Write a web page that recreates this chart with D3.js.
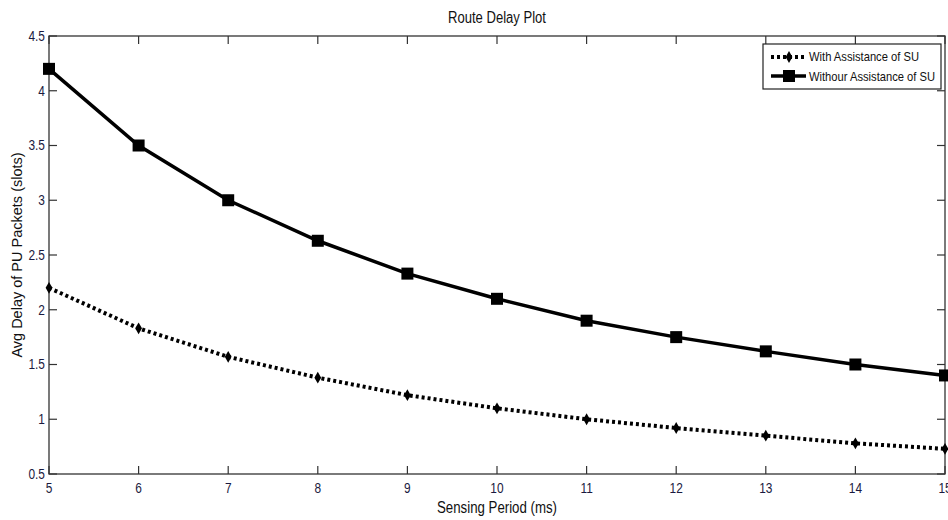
<!DOCTYPE html>
<html>
<head>
<meta charset="utf-8">
<script src="https://cdn.jsdelivr.net/npm/d3@7"></script>
<style>
  body { margin: 0; background: #fff; }
  svg text { font-family: "Liberation Sans Narrow", "Arial Narrow", "Liberation Sans", sans-serif; }
</style>
</head>
<body>
<div id="chart"></div>
<script>
// chart values
const sensingPeriod = [5, 6, 7, 8, 9, 10, 11, 12, 13, 14, 15];
const withAssist = [2.2, 1.83, 1.57, 1.38, 1.22, 1.1, 1.0, 0.92, 0.85, 0.78, 0.73];
const withoutAssist = [4.2, 3.5, 3.0, 2.63, 2.33, 2.1, 1.9, 1.75, 1.62, 1.5, 1.4];
const yTicks = [0.5, 1, 1.5, 2, 2.5, 3, 3.5, 4, 4.5];
const seriesNames = ["With Assistance of SU", "Withour Assistance of SU"];

let width = 948, height = 520;
let margin = { left: 49, right: 3, top: 36, bottom: 46 };

let svg = d3.select("#chart").append("svg")
  .attr("width", width)
  .attr("height", height);

let x = d3.scaleLinear().domain([5, 15]).range([margin.left, width - margin.right]);
let y = d3.scaleLinear().domain([0.5, 4.5]).range([height - margin.bottom, margin.top]);

// box
svg.append("rect")
  .attr("x", x(5)).attr("y", y(4.5))
  .attr("width", x(15) - x(5)).attr("height", y(0.5) - y(4.5))
  .attr("fill", "none").attr("stroke", "#333").attr("stroke-width", 1.3);

// ticks (inside, on all four sides)
let tickLen = 8;
let ticksG = svg.append("g").attr("stroke", "#333").attr("stroke-width", 1.2);
sensingPeriod.forEach(v => {
  ticksG.append("line").attr("x1", x(v)).attr("x2", x(v)).attr("y1", y(0.5)).attr("y2", y(0.5) - tickLen);
  ticksG.append("line").attr("x1", x(v)).attr("x2", x(v)).attr("y1", y(4.5)).attr("y2", y(4.5) + tickLen);
});
yTicks.forEach(v => {
  ticksG.append("line").attr("x1", x(5)).attr("x2", x(5) + tickLen).attr("y1", y(v)).attr("y2", y(v));
  ticksG.append("line").attr("x1", x(15)).attr("x2", x(15) - tickLen).attr("y1", y(v)).attr("y2", y(v));
});

// tick labels
svg.append("g").selectAll("text").data(sensingPeriod).enter().append("text")
  .attr("x", d => x(d)).attr("y", y(0.5) + 19)
  .attr("text-anchor", "middle").attr("font-size", 14).attr("fill", "#1a1a40")
  .attr("transform", d => "translate(" + x(d) + ",0)scale(0.85,1)translate(" + (-x(d)) + ",0)")
  .text(d => d);

svg.append("g").selectAll("text").data(yTicks).enter().append("text")
  .attr("x", x(5) - 4).attr("y", d => y(d) + 5)
  .attr("text-anchor", "end").attr("font-size", 14).attr("fill", "#1a1a40")
  .attr("transform", "translate(" + (x(5) - 4) + ",0)scale(0.85,1)translate(" + (-(x(5) - 4)) + ",0)")
  .text(d => d);

// titles
svg.append("text").attr("x", (x(5) + x(15)) / 2).attr("y", 23)
  .attr("text-anchor", "middle").attr("font-size", 16).attr("fill", "#111")
  .attr("textLength", 98).attr("lengthAdjust", "spacingAndGlyphs")
  .text("Route Delay Plot");

svg.append("text").attr("x", (x(5) + x(15)) / 2).attr("y", 513)
  .attr("text-anchor", "middle").attr("font-size", 16).attr("fill", "#111")
  .attr("textLength", 120).attr("lengthAdjust", "spacingAndGlyphs")
  .text("Sensing Period (ms)");

svg.append("text")
  .attr("transform", "translate(22," + ((y(0.5) + y(4.5)) / 2) + ")rotate(-90)")
  .attr("text-anchor", "middle").attr("font-size", 14.5).attr("fill", "#111")
  .style("font-family", "'Liberation Sans', Arial, sans-serif")
  .text("Avg Delay of PU Packets (slots)");

// lines
let line = d3.line().x((d, i) => x(sensingPeriod[i])).y(d => y(d));

svg.append("path").datum(withoutAssist)
  .attr("d", line).attr("fill", "none").attr("stroke", "#000").attr("stroke-width", 3.5);

svg.append("path").datum(withAssist)
  .attr("d", line).attr("fill", "none").attr("stroke", "#000")
  .attr("stroke-width", 4).attr("stroke-dasharray", "3,3");

// markers
svg.append("g").selectAll("rect").data(withoutAssist).enter().append("rect")
  .attr("x", (d, i) => x(sensingPeriod[i]) - 6).attr("y", d => y(d) - 6)
  .attr("width", 12).attr("height", 12).attr("fill", "#000");

svg.append("g").selectAll("path").data(withAssist).enter().append("path")
  .attr("d", d3.symbol().type(d3.symbolDiamond).size(40))
  .attr("transform", (d, i) => "translate(" + x(sensingPeriod[i]) + "," + y(d) + ")")
  .attr("fill", "#000");

// legend
let lg = svg.append("g").attr("transform", "translate(763,44)");
lg.append("rect").attr("width", 178).attr("height", 45)
  .attr("fill", "#fff").attr("stroke", "#222").attr("stroke-width", 1.2);

lg.append("line").attr("x1", 8).attr("x2", 43).attr("y1", 13).attr("y2", 13)
  .attr("stroke", "#000").attr("stroke-width", 4).attr("stroke-dasharray", "3,3");
lg.append("path").attr("d", d3.symbol().type(d3.symbolDiamond).size(40))
  .attr("transform", "translate(26,13)").attr("fill", "#000");
lg.append("text").attr("x", 46).attr("y", 17).attr("font-size", 13).attr("fill", "#111")
  .attr("textLength", 110).attr("lengthAdjust", "spacingAndGlyphs")
  .text(seriesNames[0]);

lg.append("line").attr("x1", 8).attr("x2", 43).attr("y1", 32).attr("y2", 32)
  .attr("stroke", "#000").attr("stroke-width", 3.5);
lg.append("rect").attr("x", 20).attr("y", 26).attr("width", 12).attr("height", 12).attr("fill", "#000");
lg.append("text").attr("x", 46).attr("y", 37).attr("font-size", 13).attr("fill", "#111")
  .attr("textLength", 126).attr("lengthAdjust", "spacingAndGlyphs")
  .text(seriesNames[1]);
</script>
</body>
</html>
